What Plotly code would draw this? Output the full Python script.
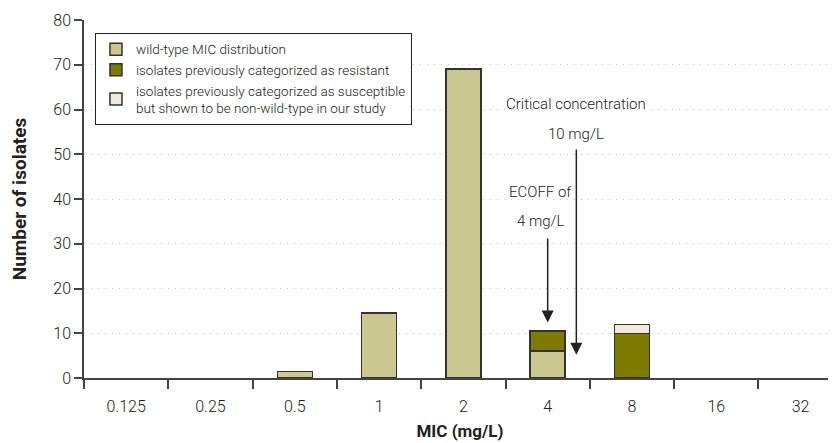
import plotly.graph_objects as go

categories = ["0.125", "0.25", "0.5", "1", "2", "4", "8", "16", "32"]
wild_type = [None, None, 1.5, 14.5, 69, 6, None, None, None]
resistant = [None, None, None, None, None, 4.5, 10, None, None]
susceptible_nwt = [None, None, None, None, None, None, 2, None, None]

FONT = "Roboto, sans-serif"
xi = list(range(len(categories)))

fig = go.Figure()
line = dict(color="#333333", width=1.5)
fig.add_bar(x=xi, y=wild_type, name="wild-type MIC distribution",
            marker=dict(color="#CBC790", line=line), width=0.415)
fig.add_bar(x=xi, y=resistant, name="isolates previously categorized as resistant",
            marker=dict(color="#7F7A00", line=line), width=0.415)
fig.add_bar(x=xi, y=susceptible_nwt,
            name="isolates previously categorized as susceptible<br>but shown to be non-wild-type in our study",
            marker=dict(color="#EFECDA", line=line), width=0.415)

fig.update_layout(
    barmode="stack",
    width=828, height=435,
    margin=dict(l=76, r=0, t=12, b=65),
    plot_bgcolor="white", paper_bgcolor="white",
    font=dict(family=FONT, size=16, color="#222", weight=300),
    legend=dict(x=0.0146, y=0.964, xanchor="left", yanchor="top",
                bordercolor="#222", borderwidth=1, bgcolor="white",
                font=dict(size=13.5, weight=300), traceorder="normal",
                itemwidth=30, tracegroupgap=0),
)
fig.update_xaxes(
    tickmode="array", tickvals=xi, ticktext=categories,
    range=[-0.5, 8.42], showline=True, linecolor="#444", linewidth=1.5,
    ticks="outside", ticklen=0, showgrid=False, zeroline=False,
    ticklabelstandoff=13, automargin=False,
    title=dict(text="<b>MIC (mg/L)</b>", font=dict(size=17, weight=700), standoff=10),
)
fig.update_xaxes(minor=dict(tickvals=[i - 0.5 for i in range(1, 9)] + [-0.5],
                            ticks="outside", ticklen=9, tickcolor="#444", tickwidth=1.5))
fig.update_yaxes(
    range=[0, 80], tickvals=list(range(0, 81, 10)),
    showline=True, linecolor="#444", linewidth=1.5,
    ticks="outside", ticklen=8, tickcolor="#444", tickwidth=1.5,
    showgrid=True, gridcolor="#c4c4c4", griddash="1px,6px", gridwidth=1,
    zeroline=False, automargin=False,
    title=dict(text="<b>Number of isolates</b>", font=dict(size=19, weight=700), standoff=30),
)

arrow = dict(showarrow=True, arrowhead=2, arrowsize=1.6, arrowwidth=1.5,
             arrowcolor="#222", axref="x", ayref="y", xref="x", yref="y")
fig.add_annotation(x=5, y=12.4, ax=5, ay=31.5, text="", **arrow)
fig.add_annotation(x=5.34, y=5.2, ax=5.34, ay=51.4, text="", **arrow)

txt = dict(showarrow=False, xref="x", yref="y", font=dict(size=15, color="#222", weight=300))
fig.add_annotation(x=5.34, y=61.3, text="Critical concentration", **txt)
fig.add_annotation(x=5.34, y=54.6, text="10 mg/L", **txt)
fig.add_annotation(x=4.92, y=41.6, text="ECOFF of", **txt)
fig.add_annotation(x=4.92, y=35.0, text="4 mg/L", **txt)

fig.write_html("out.html")
